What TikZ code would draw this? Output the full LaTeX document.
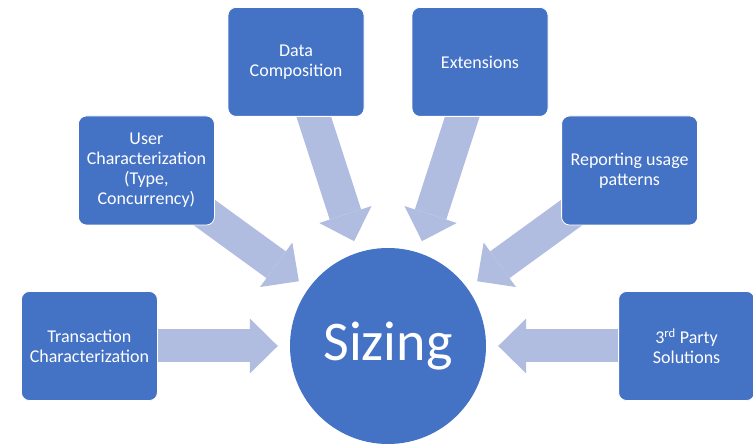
\documentclass[tikz,border=0pt]{standalone}
\usepackage{fontspec}
\setmainfont{Carlito}
\usetikzlibrary{positioning, arrows.meta, backgrounds}
\definecolor{boxblue}{RGB}{68,114,196}
\definecolor{feedblue}{RGB}{176,188,224}

\begin{document}
\begin{tikzpicture}[x=1pt, y=1pt,
	box/.style={draw=white, line width=0.8pt, fill=boxblue, rounded corners=8pt,
		minimum width=136pt, minimum height=109pt, inner sep=0pt,
		text=white, align=center, font=\fontsize{18}{20}\selectfont},
	hub/.style={circle, fill=boxblue, minimum size=196pt, inner sep=0pt,
		text=white, font=\fontsize{56}{60}\selectfont},
	feed/.style={color=feedblue, line width=33pt, line cap=butt,
		-{Triangle[width=55pt, length=28pt, line width=0pt]}, shorten >=12pt}]
	\useasboundingbox (0,0) rectangle (753,444);
	\node[hub] (sz) at (388,98)                     {Sizing};
	\node[box] (tc) [left=132pt of sz]              {Transaction\\Characterization};
	\node[box] (tp) [right=132pt of sz]             {3\textsuperscript{rd} Party\\Solutions};
	\node[box] (uc) [left=75pt of sz, yshift=175.5pt]  {User\\Characterization\\(Type,\\Concurrency)};
	\node[box] (ru) [right=75pt of sz, yshift=175.5pt] {Reporting usage\\patterns};
	\node[box] (dc) [above=131pt of sz, xshift=-92pt]  {Data\\Composition};
	\node[box] (ex) [above=131pt of sz, xshift=92pt]   {Extensions};

	\begin{scope}[on background layer]
	\path[feed]
			(tc.center) edge (sz)
			(uc.center) edge (sz)
			(dc.center) edge (sz)
			(ex.center) edge (sz)
			(ru.center) edge (sz)
			(tp.center) edge (sz);
	\end{scope}
\end{tikzpicture}
\end{document}
